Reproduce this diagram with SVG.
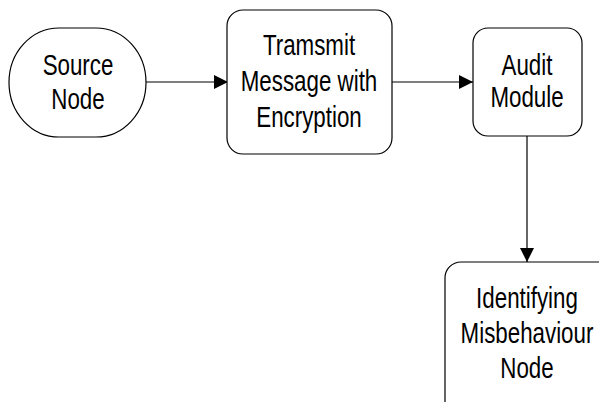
<svg xmlns="http://www.w3.org/2000/svg" width="599" height="402" viewBox="0 0 599 402">
  <style>
    .shape { fill: #ffffff; stroke: #000000; stroke-width: 1.2; }
    .label { font-family: "Liberation Sans", Arial, sans-serif; font-size: 29px; fill: #000000; text-anchor: middle; }
    .edge { fill: none; stroke: #000000; stroke-width: 1.2; }
  </style>
  <defs>
    <marker id="arrow" viewBox="0 0 14 14" refX="14" refY="7" markerWidth="14" markerHeight="14" markerUnits="userSpaceOnUse" orient="auto">
      <path d="M0,0 L14,7 L0,14 Z" fill="#000000"/>
    </marker>
  </defs>
  <rect width="599" height="402" fill="#ffffff"/>

  <g id="connectors">
    <line class="edge" x1="146" y1="82" x2="228" y2="82" marker-end="url(#arrow)"/>
    <line class="edge" x1="392" y1="82" x2="473" y2="82" marker-end="url(#arrow)"/>
    <line class="edge" x1="527" y1="136" x2="527" y2="262" marker-end="url(#arrow)"/>
  </g>

  <g id="source-node">
    <rect class="shape" x="9" y="28" width="137" height="109" rx="50" ry="54.5"/>
    <text class="label" transform="translate(78,75) scale(0.77,1)">Source</text>
    <text class="label" transform="translate(78,109) scale(0.77,1)">Node</text>
  </g>

  <g id="transmit">
    <rect class="shape" x="227" y="10" width="165" height="144" rx="16" ry="16"/>
    <text class="label" transform="translate(309,55) scale(0.77,1)">Tramsmit</text>
    <text class="label" transform="translate(309,91) scale(0.77,1)">Message with</text>
    <text class="label" transform="translate(309,127) scale(0.77,1)">Encryption</text>
  </g>

  <g id="audit">
    <rect class="shape" x="473" y="28" width="109" height="108" rx="15" ry="15"/>
    <text class="label" transform="translate(527,75) scale(0.77,1)">Audit</text>
    <text class="label" transform="translate(527,107) scale(0.77,1)">Module</text>
  </g>

  <g id="identifying">
    <rect class="shape" x="445" y="262" width="170" height="160" rx="16" ry="16"/>
    <text class="label" transform="translate(527,308) scale(0.77,1)">Identifying</text>
    <text class="label" transform="translate(527,343) scale(0.77,1)">Misbehaviour</text>
    <text class="label" transform="translate(527,378) scale(0.77,1)">Node</text>
  </g>
</svg>
